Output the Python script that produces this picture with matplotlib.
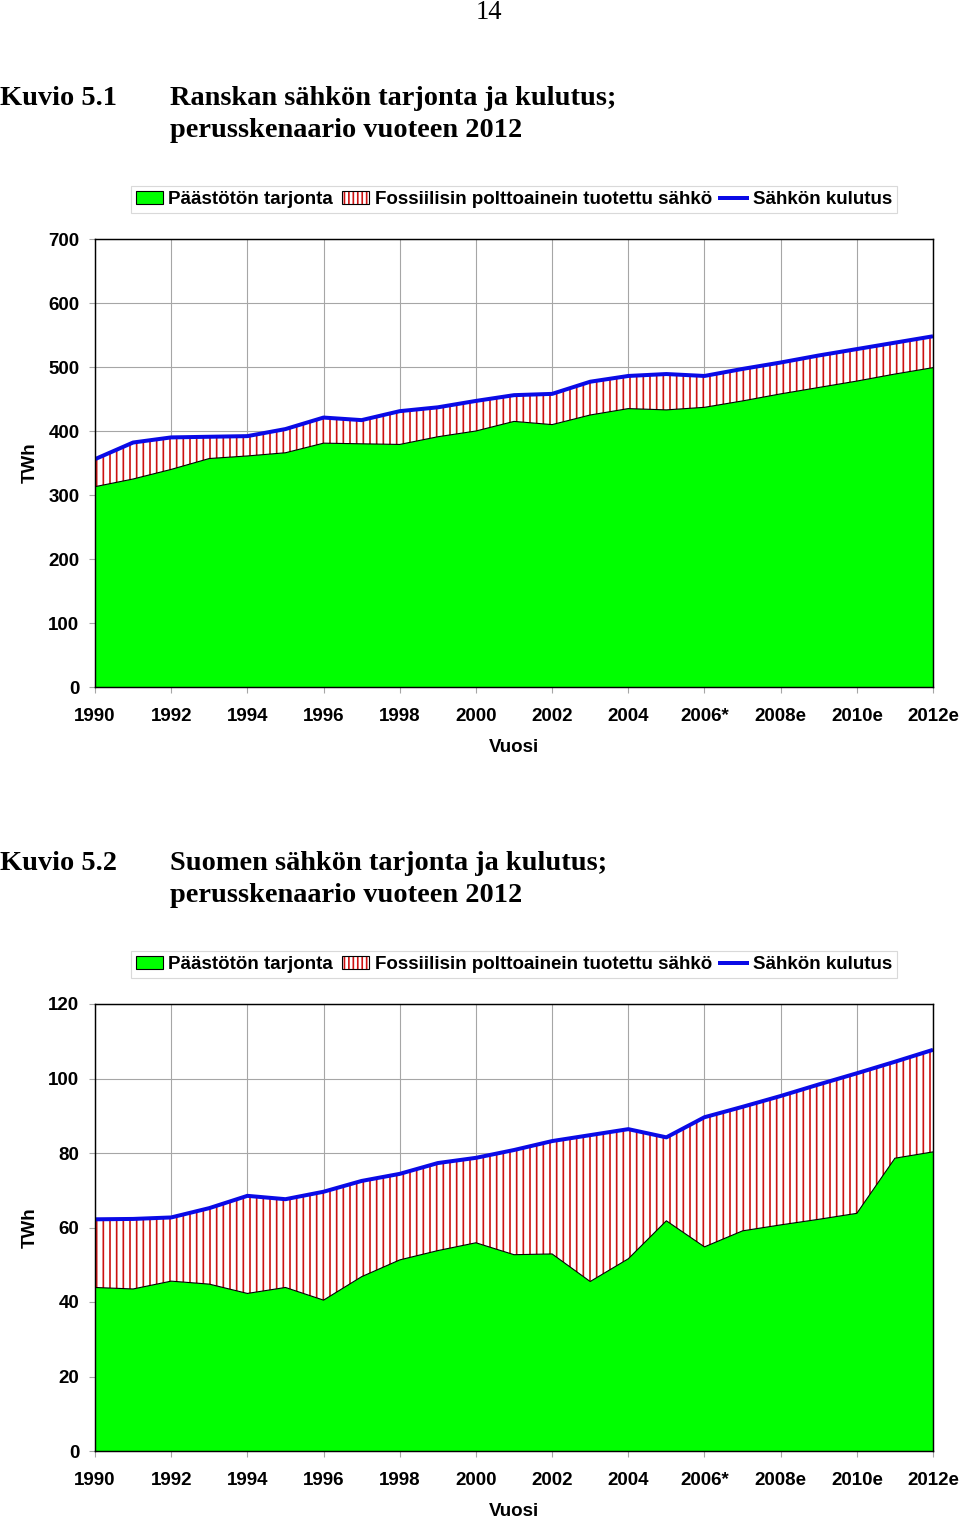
import matplotlib
matplotlib.use("Agg")
import matplotlib.pyplot as plt
from matplotlib.patches import Patch
from matplotlib.lines import Line2D
from matplotlib.legend_handler import HandlerTuple

# ---------------- data ----------------
years = list(range(1990, 2013))
tick_years = list(range(1990, 2013, 2))
tick_labels = ["1990", "1992", "1994", "1996", "1998", "2000", "2002", "2004",
               "2006*", "2008e", "2010e", "2012e"]

fr_total = [356, 382, 390, 391, 392, 403, 421, 417, 431, 437, 447, 456, 458,
            477, 486, 489, 486, 497, 507, 518, 528, 538, 548]
fr_green = [313, 325, 340, 357, 361, 366, 381, 380, 379, 391, 400, 415, 410,
            425, 435, 433, 437, 447, 458, 468, 478, 489, 499]

fi_total = [62.2, 62.3, 62.7, 65.2, 68.5, 67.6, 69.6, 72.5, 74.4, 77.3, 78.7,
            80.8, 83.2, 84.8, 86.4, 84.2, 89.6, 92.4, 95.3, 98.4, 101.4, 104.5, 107.7]
fi_green = [43.9, 43.5, 45.6, 44.8, 42.3, 43.9, 40.5, 46.8, 51.3, 53.8, 55.9,
            52.7, 52.9, 45.5, 51.6, 61.8, 54.8, 59.1, 60.7, 62.2, 63.8, 78.6, 80.3]

legend_labels = ["Päästötön tarjonta", "Fossiilisin polttoainein tuotettu sähkö",
                 "Sähkön kulutus"]

# ---------------- style ----------------
DPI = 80
W, H = 960, 1522
plt.rcParams["hatch.linewidth"] = 1.5
plt.rcParams["font.family"] = ["Liberation Sans", "DejaVu Sans"]

GREEN = "#00ff00"
RED = "#cc1111"
BLUE = "#0a0ae6"
GRID = "#a6a6a6"
FS = 16.9

fig = plt.figure(figsize=(W / DPI, H / DPI), dpi=DPI)


def fx(x):
    return x / W


def fy(y):
    return 1 - y / H


serif = ["Liberation Serif", "DejaVu Serif"]
fig.text(fx(489), fy(19), "14", ha="center", va="baseline", fontsize=24,
         family=serif)


def panel(top, bottom, kuvio, title1, title2, title_y, total, green, ymax, ystep):
    for x, y, s in [(0, title_y, kuvio), (170, title_y, title1), (170, title_y + 32, title2)]:
        fig.text(fx(x), fy(y), s, ha="left", va="baseline", fontsize=25.5,
                 family=serif, fontweight="bold")

    ax = fig.add_axes([fx(95), fy(bottom), (933 - 95) / W, (bottom - top) / H])
    ax.fill_between(years, 0, green, facecolor=GREEN, edgecolor="none", zorder=2)
    ax.fill_between(years, green, total, facecolor="white", edgecolor=RED,
                    hatch="||", linewidth=0, zorder=2)
    ax.plot(years, green, color="black", lw=1.0, zorder=3)
    ax.plot(years, total, color=BLUE, lw=3.6, zorder=4, solid_capstyle="butt")

    ax.set_xlim(1990, 2012)
    ax.set_ylim(0, ymax)
    ax.set_xticks(tick_years)
    ax.set_xticklabels(tick_labels)
    ax.set_yticks(range(0, ymax + 1, ystep))
    ax.grid(True, color=GRID, lw=1.0, zorder=0)
    ax.set_axisbelow(True)
    for s in ax.spines.values():
        s.set_color("black")
        s.set_linewidth(1.3)
        s.set_zorder(5)
    ax.tick_params(axis="both", color=GRID, length=5, width=1, labelsize=FS)
    ax.tick_params(axis="x", pad=14)
    ax.tick_params(axis="y", pad=9)
    for lab in ax.get_xticklabels() + ax.get_yticklabels():
        lab.set_fontweight("bold")

    ax.set_xlabel("Vuosi", fontsize=FS, fontweight="bold", labelpad=12.5)
    ax.set_ylabel("TWh", fontsize=FS, fontweight="bold")
    ax.yaxis.set_label_coords(-(95 - 39) / (933 - 95), 0.5)

    h_green = Patch(facecolor=GREEN, edgecolor="black", linewidth=1)
    h_hatch = (Patch(facecolor="white", edgecolor=RED, hatch="|||", linewidth=0),
               Patch(fill=False, edgecolor="black", linewidth=1))
    h_line = Line2D([], [], color=BLUE, lw=3.6)
    leg = ax.legend([h_green, h_hatch, h_line], legend_labels,
                    handler_map={tuple: HandlerTuple(ndivide=1, pad=0)},
                    loc="lower center", bbox_to_anchor=(0.5, 1 + (26 / (bottom - top))),
                    ncol=3, frameon=True, fancybox=False, edgecolor="#d0d0d0",
                    borderpad=0.25, borderaxespad=0, handlelength=1.45,
                    handletextpad=0.3, columnspacing=0.45,
                    prop={"family": ["Liberation Sans"], "weight": "bold", "size": FS})
    leg.get_frame().set_linewidth(1.0)
    return ax


panel(239, 687, "Kuvio 5.1", "Ranskan sähkön tarjonta ja kulutus;",
      "perusskenaario vuoteen 2012", 105, fr_total, fr_green, 700, 100)
panel(1004, 1451, "Kuvio 5.2", "Suomen sähkön tarjonta ja kulutus;",
      "perusskenaario vuoteen 2012", 870, fi_total, fi_green, 120, 20)

fig.savefig("out.png", dpi=DPI, facecolor="white")
